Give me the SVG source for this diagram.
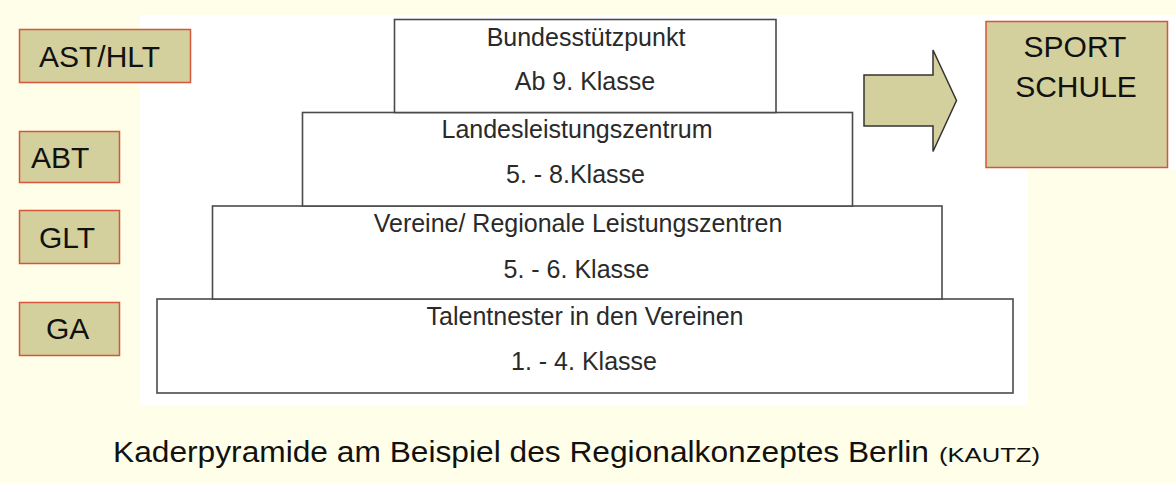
<svg xmlns="http://www.w3.org/2000/svg" width="1176" height="483" viewBox="0 0 1176 483">
  <style>
    .lbl { fill: #D3D09D; stroke: #D5563B; stroke-width: 1.5; }
    .lt { font-family: "Liberation Sans", Arial, sans-serif; font-size: 30px; fill: #111; }
    .lvl { fill: #FFFFFF; stroke: #4A4A4A; stroke-width: 1.6; }
    .pt { font-family: "Liberation Sans", Arial, sans-serif; font-size: 25px; fill: #2A2A2A; text-anchor: middle; }
    .cap { font-family: "Liberation Sans", Arial, sans-serif; fill: #111; }
  </style>
  <rect x="0" y="0" width="1176" height="483" fill="#FFFEE8"/>
  <path d="M140 15 H1176 V170 H1028 V405 H140 Z" fill="#FFFFFF"/>

  <g id="ast-hlt">
    <rect class="lbl" x="19.5" y="29.5" width="171" height="53"/>
    <text class="lt" x="39" y="67">AST/HLT</text>
  </g>
  <g id="abt">
    <rect class="lbl" x="19.5" y="131.5" width="100" height="51"/>
    <text class="lt" x="31" y="168">ABT</text>
  </g>
  <g id="glt">
    <rect class="lbl" x="19.5" y="210.5" width="100" height="53"/>
    <text class="lt" x="39" y="248">GLT</text>
  </g>
  <g id="ga">
    <rect class="lbl" x="19.5" y="302.5" width="100" height="53"/>
    <text class="lt" x="46" y="339">GA</text>
  </g>

  <g id="level-4">
    <rect class="lvl" x="157" y="299" width="856" height="94"/>
    <text class="pt" x="585" y="325">Talentnester in den Vereinen</text>
    <text class="pt" x="584" y="370">1. - 4. Klasse</text>
  </g>
  <g id="level-3">
    <rect class="lvl" x="212.5" y="206" width="729.5" height="93"/>
    <text class="pt" x="578" y="232">Vereine/ Regionale Leistungszentren</text>
    <text class="pt" x="576.5" y="278">5. - 6. Klasse</text>
  </g>
  <g id="level-2">
    <rect class="lvl" x="302.5" y="112.5" width="550" height="93.5"/>
    <text class="pt" x="577" y="138">Landesleistungszentrum</text>
    <text class="pt" x="575.5" y="183">5. - 8.Klasse</text>
  </g>
  <g id="level-1">
    <rect class="lvl" x="394.5" y="19.5" width="381.5" height="93"/>
    <text class="pt" x="586" y="46">Bundesstützpunkt</text>
    <text class="pt" x="585" y="90">Ab 9. Klasse</text>
  </g>

  <g id="connectors">
    <path d="M864 75 H933 V50 L956.5 100.5 L933 151.5 V126 H864 Z" fill="#D3D09D" stroke="#333" stroke-width="1.5" stroke-linejoin="miter"/>
  </g>

  <g id="sportschule">
    <rect class="lbl" x="986" y="21.5" width="181.5" height="146"/>
    <text class="lt" x="1075" y="57" text-anchor="middle" font-size="31">SPORT</text>
    <text class="lt" x="1076" y="97" text-anchor="middle" font-size="31">SCHULE</text>
  </g>

  <g id="caption">
    <text class="cap" x="113" y="462" font-size="30" textLength="816" lengthAdjust="spacingAndGlyphs">Kaderpyramide am Beispiel des Regionalkonzeptes Berlin</text>
    <text class="cap" x="939" y="462" font-size="21" textLength="101" lengthAdjust="spacingAndGlyphs">(KAUTZ)</text>
  </g>
</svg>
